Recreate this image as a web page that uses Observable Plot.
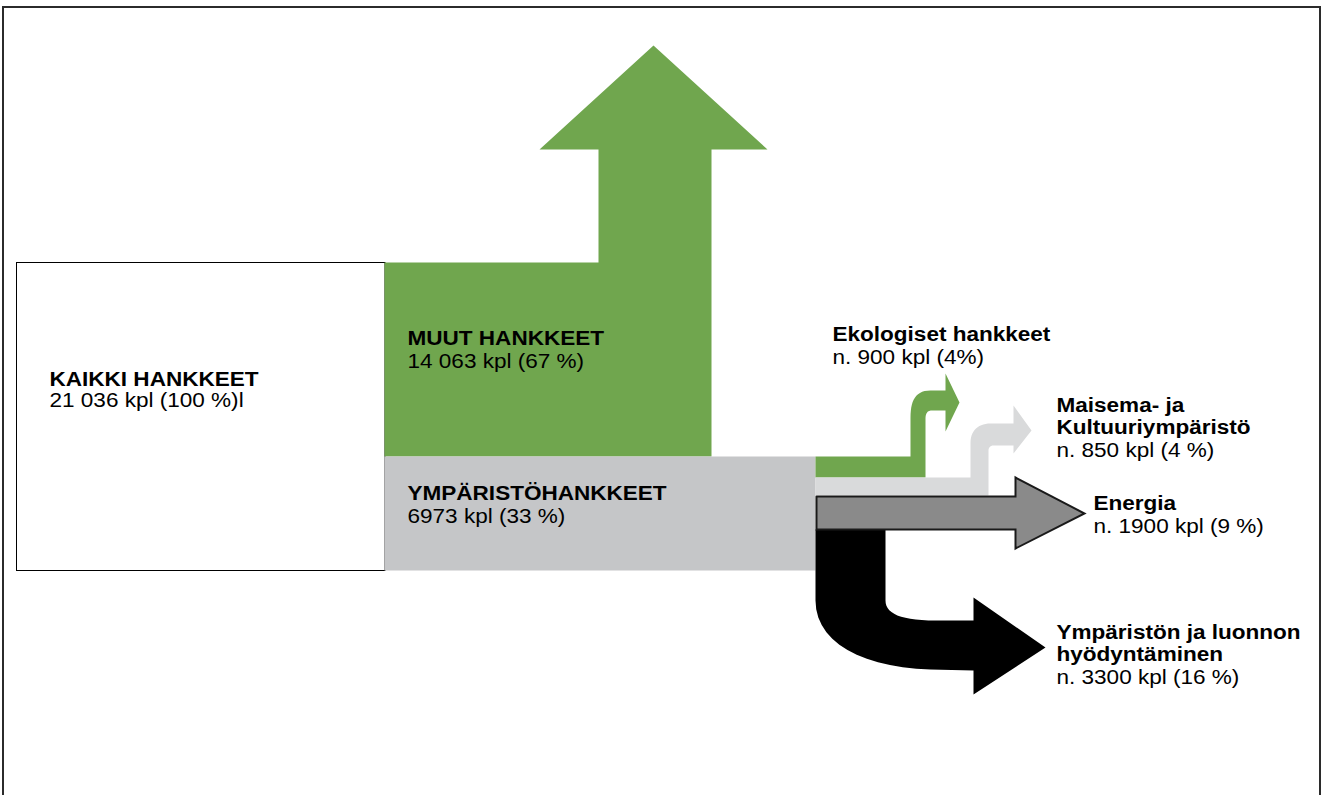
<!DOCTYPE html>
<html>
<head>
<meta charset="utf-8">
<script src="https://cdn.jsdelivr.net/npm/d3@7"></script>
<script src="https://cdn.jsdelivr.net/npm/@observablehq/plot@0.6"></script>
<style>
  html, body { margin: 0; padding: 0; background: #fff; }
  #chart svg { display: block; }
</style>
</head>
<body>
<div id="chart"></div>
<script>
// ---------------- DATA ----------------
const categories = [
  "KAIKKI HANKKEET",
  "MUUT HANKKEET",
  "YMPÄRISTÖHANKKEET",
  "Ekologiset hankkeet",
  "Maisema- ja\nKultuuriympäristö",
  "Energia",
  "Ympäristön ja luonnon\nhyödyntäminen"
];
const counts = [21036, 14063, 6973, 900, 850, 1900, 3300];
const percents = [100, 67, 33, 4, 4, 9, 16];
const countLabels = [
  "21 036 kpl (100 %)l",
  "14 063 kpl (67 %)",
  "6973 kpl (33 %)",
  "n. 900 kpl (4%)",
  "n. 850 kpl (4 %)",
  "n. 1900 kpl (9 %)",
  "n. 3300 kpl (16 %)"
];
const parents = [null, 0, 0, 2, 2, 2, 2];

// ---------------- STYLE ----------------
const colors = ["#ffffff", "#70a64e", "#c5c6c8", "#70a64e", "#d9dadb", "#8a8a8a", "#000000"];
const FONT = "'Liberation Sans', Arial, Helvetica, sans-serif";
const FS = 20.5;
const STRETCH = 1.1;

// ---------------- LAYOUT (diagram geometry, px) ----------------
const W = 1327, H = 795;
function cubic(p0, c1, c2, p1, n = 14) {
  const pts = [];
  for (let i = 1; i <= n; i++) {
    const t = i / n, u = 1 - t;
    pts.push([
      u*u*u*p0[0] + 3*u*u*t*c1[0] + 3*u*t*t*c2[0] + t*t*t*p1[0],
      u*u*u*p0[1] + 3*u*u*t*c1[1] + 3*u*t*t*c2[1] + t*t*t*p1[1]
    ]);
  }
  return pts;
}
const shapes = [];
// 1 MUUT HANKKEET: block + upward arrow
shapes[1] = [[384,262],[598,262],[598,149],[539,149],[653,45],[767,149],[711,149],[711,456],[384,456]];
// 2 YMPÄRISTÖHANKKEET block
shapes[2] = [[384,456],[815,456],[815,570],[384,570]];
// 3 Ekologiset hankkeet: small bent arrow
shapes[3] = [[815,456],[910,456],[910,417],
  ...cubic([910,417],[910,400],[915,390],[930,390]),
  [945,390],[945,373],[959,402],[945,431],[945,410],[931,410],
  ...cubic([931,410],[927,410],[925,413],[925,418]),
  [925,477],[815,477]];
// 4 Maisema- ja Kultuuriympäristö
shapes[4] = [[815,477],[970,477],[970,442],
  ...cubic([970,442],[970,430],[978,423],[990,423]),
  [1013,423],[1013,405],[1031,430],[1013,453],[1013,445],[993,445],
  ...cubic([993,445],[990,445],[988,447],[988,450]),
  [988,495],[815,495]];
// 5 Energia
shapes[5] = [[816,496],[1015,496],[1015,477],[1084,513],[1015,548],[1015,529],[816,529],[816,496]];
// 6 Ympäristön ja luonnon hyödyntäminen
shapes[6] = [[815,529],[885,529],[885,600],
  ...cubic([885,600],[885,613],[900,620],[935,620]),
  [973,620],[973,597],[1045,647],[973,694],[973,670],[930,669],
  ...cubic([930,669],[862,667],[815,642],[815,600]),
  [815,529]];

const rootBox = [{x1: 16.5, x2: 385, y1: 262.5, y2: 570.5}];
const frameBox = [{x1: 3, x2: 1320, y1: 7, y2: 820}];

// label anchors: x, baseline of last title line, baseline of count line
const labelPos = [
  [49, 385, 406],
  [407, 344, 367],
  [407, 499, 522],
  [832, 340, 363],
  [1056, 433, 456],
  [1093, 509, 532],
  [1056, 660, 683]
];
const labels = categories.map((c, i) => ({
  title: c, count: countLabels[i], value: counts[i], pct: percents[i],
  x: labelPos[i][0], yt: labelPos[i][1], yc: labelPos[i][2]
}));

// ---------------- MARKS ----------------
const marks = [
  Plot.rect(frameBox, {x1: "x1", x2: "x2", y1: "y1", y2: "y2", fill: "none", stroke: "#2b2b2b", strokeWidth: 2}),
  Plot.rect(rootBox, {x1: "x1", x2: "x2", y1: "y1", y2: "y2", fill: colors[0], stroke: "#000", strokeWidth: 1})
];
const order = [1, 2, 3, 4, 6, 5];
for (const i of order) {
  const pts = shapes[i].map(([x, y]) => ({x, y, name: categories[i], value: counts[i], parent: parents[i]}));
  marks.push(Plot.line(pts, {
    x: "x", y: "y",
    fill: colors[i],
    stroke: i === 5 ? "#1a1a1a" : "none",
    strokeWidth: i === 5 ? 2 : 0,
    strokeLinejoin: "miter", strokeMiterlimit: 10,
    curve: "linear"
  }));
}
marks.push(
  Plot.text(labels, {x: "x", y: "yt", text: "title", textAnchor: "start", lineAnchor: "bottom",
    lineHeight: 1.07, fontWeight: "bold", fontSize: FS, fontFamily: FONT, fill: "#000"}),
  Plot.text(labels, {x: "x", y: "yc", text: "count", textAnchor: "start", lineAnchor: "bottom",
    fontSize: FS, fontFamily: FONT, fill: "#000"})
);

const chart = Plot.plot({
  width: W, height: H,
  margin: 0,
  x: {domain: [0, W], range: [0, W], axis: null},
  y: {domain: [0, H], range: [0, H], axis: null},
  style: {fontFamily: FONT, background: "#fff"},
  marks
});

// horizontal stretch of the labels (the reference lettering is slightly wide)
chart.querySelectorAll('g[aria-label="text"] text').forEach(t => {
  const tr = t.getAttribute("transform");
  if (tr) {
    t.setAttribute("transform", tr + ` scale(${STRETCH},1)`);
  } else {
    const x = +t.getAttribute("x") || 0, y = +t.getAttribute("y") || 0;
    t.setAttribute("transform", `translate(${x},${y}) scale(${STRETCH},1) translate(${-x},${-y})`);
  }
});
document.getElementById("chart").appendChild(chart);
</script>
</body>
</html>
